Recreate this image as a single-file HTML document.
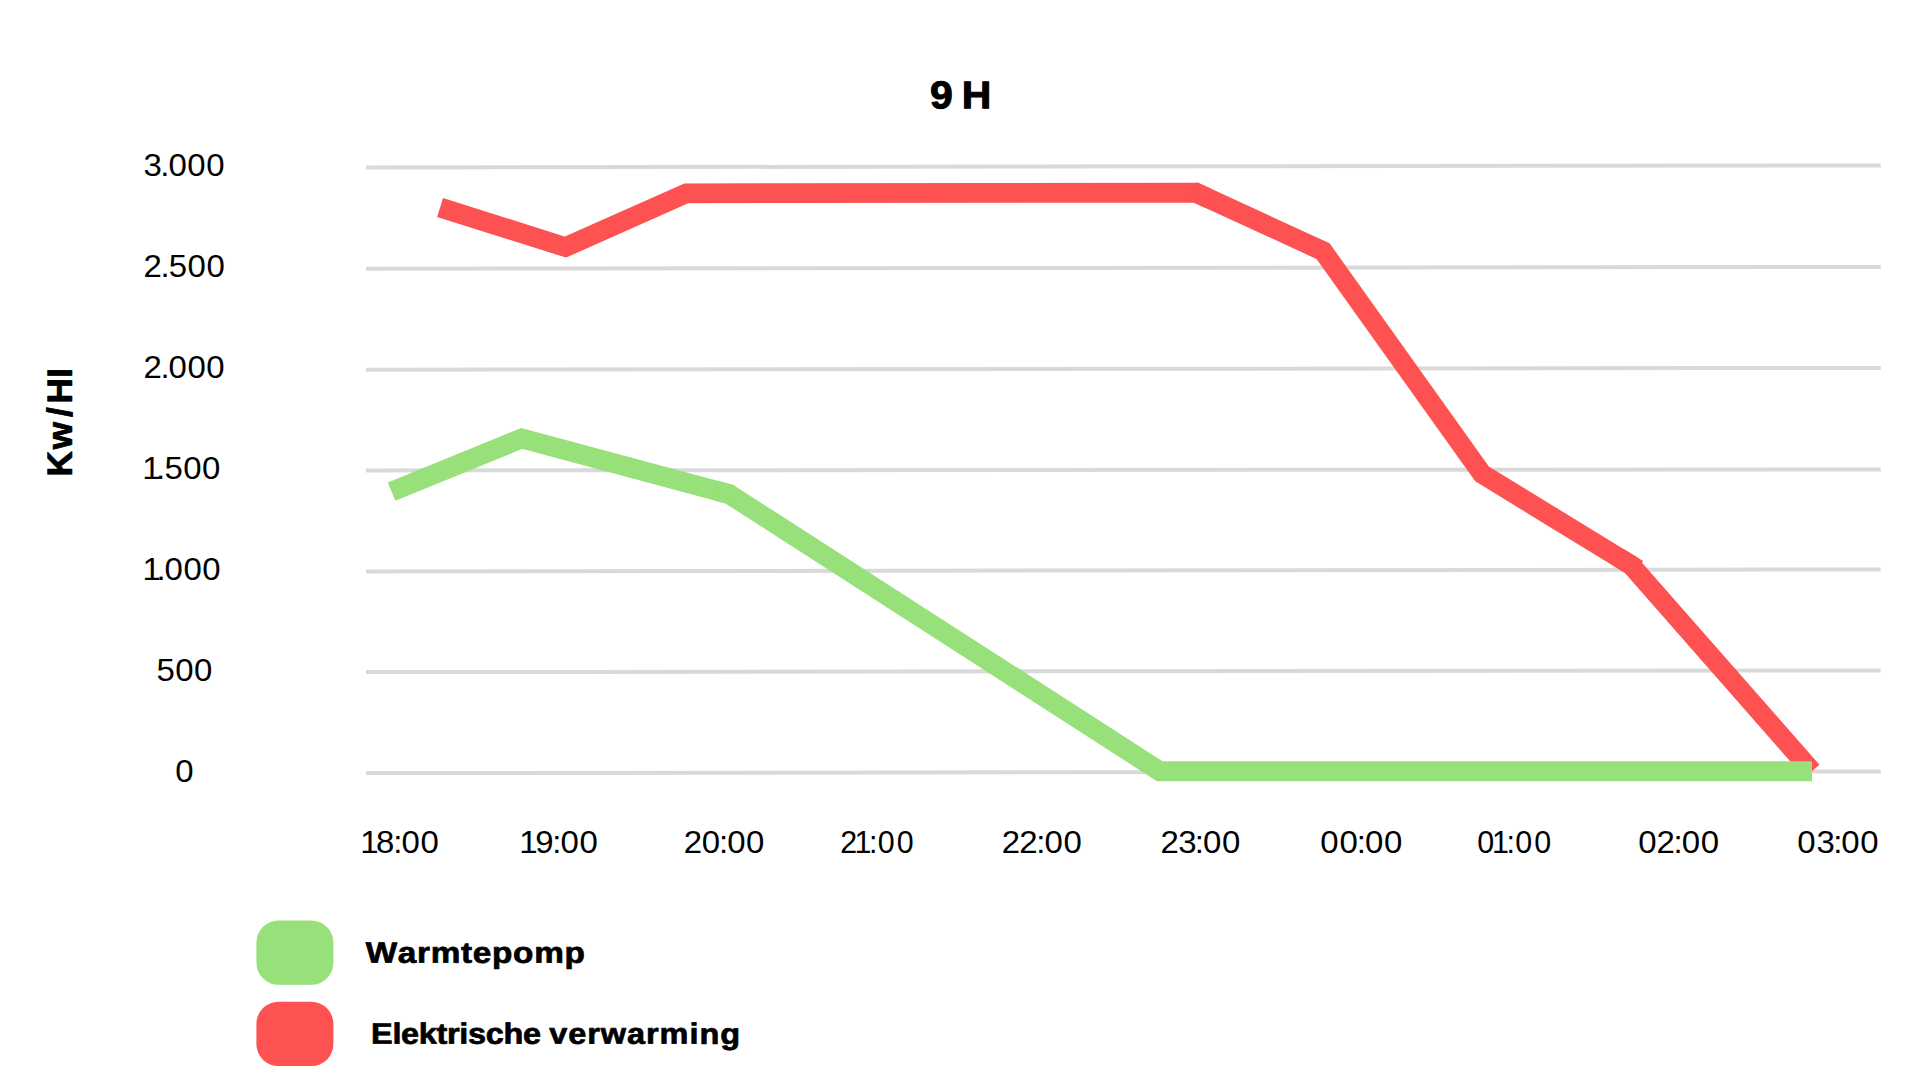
<!DOCTYPE html>
<html lang="nl">
<head>
<meta charset="utf-8">
<title>9 H</title>
<style>
html,body{margin:0;padding:0;background:#fff;}
body{width:1920px;height:1080px;overflow:hidden;}
svg{display:block;}
text{font-family:"Liberation Sans",sans-serif;fill:#000;font-kerning:none;}
</style>
</head>
<body>
<svg width="1920" height="1080" viewBox="0 0 1920 1080">
<rect width="1920" height="1080" fill="#ffffff"/>
<g stroke="#d9d9d9" stroke-width="4" fill="none">
<line x1="366" y1="167.40" x2="1880.7" y2="165.40"/>
<line x1="366" y1="268.75" x2="1880.7" y2="266.95"/>
<line x1="366" y1="369.80" x2="1880.7" y2="367.90"/>
<line x1="366" y1="470.40" x2="1880.7" y2="469.50"/>
<line x1="366" y1="571.40" x2="1880.7" y2="569.45"/>
<line x1="366" y1="672.10" x2="1880.7" y2="670.40"/>
<line x1="366" y1="773.10" x2="1880.7" y2="771.40"/>
</g>
<polyline points="440.10,207.50 565.50,247.10 686.40,193.30 1196.00,192.70 1323.10,251.20 1482.10,474.00 1631.00,565.00 1812.00,771.20" fill="none" stroke="#fe5151" stroke-width="19.7" stroke-linejoin="miter" stroke-linecap="butt" stroke-miterlimit="10"/>
<line x1="1618.20" y1="557.18" x2="1638.00" y2="569.28" stroke="#fe5151" stroke-width="19.7"/>
<line x1="1209.63" y1="198.97" x2="1192.73" y2="191.19" stroke="#fe5151" stroke-width="19.7"/>
<polyline points="391.60,491.60 521.80,438.40 729.20,494.10 1159.80,771.25 1812.00,771.25" fill="none" stroke="#98e07a" stroke-width="19.9" stroke-linejoin="miter" stroke-linecap="butt" stroke-miterlimit="10"/>
<line x1="714.71" y1="490.21" x2="732.68" y2="495.03" stroke="#98e07a" stroke-width="19.9"/>
<rect x="256.4" y="920.5" width="77" height="64.3" rx="22" ry="22" fill="#98e07a"/>
<rect x="256.4" y="1001.8" width="77" height="64.3" rx="22" ry="22" fill="#fe5151"/>
<g>
<text x="0" y="0" font-size="38.646511627906975" font-weight="bold" transform="translate(930.11 108.20) rotate(0.04) scale(1.06 1)" stroke="#000" stroke-width="1.0" stroke-linejoin="round" dx="0.00 0.00 -2.46">9 H</text>
<text x="0" y="0" font-size="31.4" transform="translate(143.58 175.59) scale(1.05 1)" dx="0.00 -1.47 -1.09 0.58 0.61">3.000</text>
<text x="0" y="0" font-size="31.4" transform="translate(143.48 276.59) scale(1.05 1)" dx="0.00 -1.33 -0.75 0.39 0.49">2.500</text>
<text x="0" y="0" font-size="31.4" transform="translate(143.48 377.59) scale(1.05 1)" dx="0.00 -1.33 -1.09 0.58 0.61">2.000</text>
<text x="0" y="0" font-size="31.4" transform="translate(142.25 478.59) scale(1.05 1)" dx="0.00 -4.26 -0.75 0.39 0.49">1.500</text>
<text x="0" y="0" font-size="31.4" transform="translate(142.45 579.59) scale(1.05 1)" dx="0.00 -4.16 -1.09 0.58 0.61">1.000</text>
<text x="0" y="0" font-size="31.4" transform="translate(156.41 680.99) scale(1.05 1)" dx="0.00 0.55 0.44">500</text>
<text x="0" y="0" font-size="31.4" transform="translate(175.13 781.59) scale(1.05 1)" dx="0.00">0</text>
<text x="0" y="0" font-size="31.4" transform="translate(360.25 852.79) scale(1.05 1)" dx="0.00 -2.53 -0.86 -0.95 0.63">18:00</text>
<text x="0" y="0" font-size="31.4" transform="translate(519.35 852.79) scale(1.05 1)" dx="0.00 -2.38 -1.20 -0.95 0.63">19:00</text>
<text x="0" y="0" font-size="31.4" transform="translate(683.78 852.79) scale(1.05 1)" dx="0.00 -0.37 -1.05 -0.95 0.63">20:00</text>
<text x="0" y="0" font-size="31.4" transform="translate(840.21 852.79) scale(0.97 1)" dx="0.00 -2.63 -2.49 0.05 2.12">21:00</text>
<text x="0" y="0" font-size="31.4" transform="translate(1001.68 852.79) scale(1.05 1)" dx="0.00 -0.61 -1.38 -0.95 0.63">22:00</text>
<text x="0" y="0" font-size="31.4" transform="translate(1160.48 852.79) scale(1.05 1)" dx="0.00 -0.61 -1.57 -0.95 0.63">23:00</text>
<text x="0" y="0" font-size="31.4" transform="translate(1320.33 852.79) scale(1.05 1)" dx="0.00 0.82 -1.05 -0.95 0.63">00:00</text>
<text x="0" y="0" font-size="31.4" transform="translate(1477.37 852.79) scale(0.97 1)" dx="0.00 -2.28 -2.49 0.05 2.12">01:00</text>
<text x="0" y="0" font-size="31.4" transform="translate(1638.33 852.79) scale(1.05 1)" dx="0.00 -0.08 -1.38 -0.95 0.63">02:00</text>
<text x="0" y="0" font-size="31.4" transform="translate(1797.33 852.79) scale(1.05 1)" dx="0.00 0.77 -1.57 -0.95 0.63">03:00</text>
<text x="0" y="0" font-size="29.505813953488374" font-weight="bold" transform="translate(365.72 962.65) rotate(0.04) scale(1.13 1)" stroke="#000" stroke-width="0.7" stroke-linejoin="round" dx="0.00 0.60 0.60 0.60 0.60 0.60 0.60 0.60 0.60 0.60">Warmtepomp</text>
<text x="0" y="0" font-size="29.505813953488374" font-weight="bold" transform="translate(371.08 1043.65) rotate(0.04) scale(1.1 1)" stroke="#000" stroke-width="0.7" stroke-linejoin="round" dx="0.00 -0.30 -0.30 -0.30 -0.30 -0.30 -0.30 -0.30 -0.30 -0.30 -0.30 0.00 -0.69 0.86 0.86 0.86 0.86 0.86 0.86 0.86 0.86 0.86">Elektrische verwarming</text>
<text x="-2.86" y="0" font-size="35.02906976744187" font-weight="bold" transform="translate(71.65 473.6) rotate(-89.97)" stroke="#000" stroke-width="0.9" stroke-linejoin="round" dx="0.00 2.00 5.04 3.59 0.63">Kw/HI</text>
</g>
</svg>
</body>
</html>
